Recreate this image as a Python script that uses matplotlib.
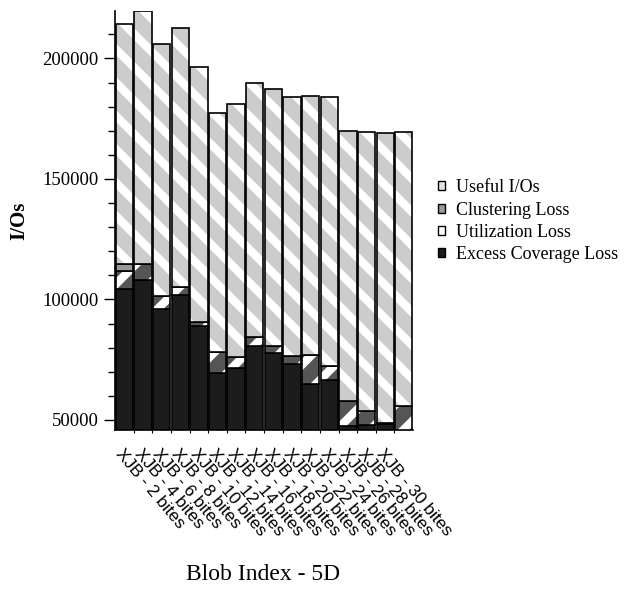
import matplotlib
matplotlib.use("Agg")
import numpy as np
import matplotlib.pyplot as plt
from matplotlib.patches import Patch

plt.rcParams["font.family"] = ["Liberation Serif", "DejaVu Serif"]
plt.rcParams["hatch.linewidth"] = 6.0

# one bar per index variant; the last bar has no tick label
tick_labels = ["XJB - %d bites" % b for b in range(2, 32, 2)]
n_bars = 16

excess = [104200, 107900, 96200, 101700, 88900, 69400, 71500, 80700,
          77700, 73300, 65000, 66600, 47300, 48000, 48300, 45000]
utilization = [7600, 6900, 5400, 3500, 1900, 8700, 4500, 3600,
               3000, 3300, 12000, 5800, 10700, 5500, 600, 10600]
clustering = [2800, 0, 0, 0, 0, 0, 0, 0, 0, 0, 0, 0, 0, 0, 0, 0]
useful = [99500, 104800, 104300, 107360, 105600, 99100, 105000, 105700,
          106600, 107300, 107400, 111400, 111900, 115800, 120000, 114000]

series_names = ["Excess Coverage Loss", "Utilization Loss", "Clustering Loss", "Useful I/Os"]

fig = plt.figure(figsize=(6.25, 5.97), dpi=100)
ax = fig.add_axes([0.184, 0.2797, 0.477, 0.7019])

x = np.arange(n_bars)
w = 0.93


def stacked(vals, bottom, face, hatch=None):
    # fill + white hatch first, then the black outline on top
    ax.bar(x, vals, w, bottom=bottom, color=face, edgecolor="white",
           hatch=hatch, linewidth=0)
    ax.bar(x, vals, w, bottom=bottom, fill=False, edgecolor="black", linewidth=1.2)


base = np.zeros(n_bars)
stacked(excess, base, "#1c1c1c")
base = base + np.array(excess)
stacked(utilization, base, "#555555", "/")
base = base + np.array(utilization)
stacked(clustering, base, "#9a9a9a")
base = base + np.array(clustering)
stacked(useful, base, "#cccccc", "\\")

ax.set_xlim(-0.5, n_bars - 0.5)
ax.set_ylim(45800, 219700)

ax.spines["top"].set_visible(False)
ax.spines["right"].set_visible(False)
for s in ("left", "bottom"):
    ax.spines[s].set_linewidth(1.2)

ax.set_yticks([50000, 100000, 150000, 200000])
ax.set_yticks(np.arange(50000, 220000, 10000), minor=True)
ax.tick_params(axis="y", which="major", length=8, width=1, labelsize=13.5, pad=4)
ax.tick_params(axis="y", which="minor", length=5, width=1)

ax.set_xticks(x[:len(tick_labels)])
ax.set_xticklabels(tick_labels, rotation=-50, ha="left", va="top",
                   rotation_mode="anchor", family="Liberation Sans", fontsize=12.5)
ax.set_xticks(np.arange(0.5, n_bars - 0.5, 1), minor=True)
ax.tick_params(axis="x", which="major", length=0, pad=12)
ax.tick_params(axis="x", which="minor", length=2, width=0.8)

ax.set_ylabel("I/Os", fontsize=15, fontweight="bold", labelpad=9)
fig.text(0.421, 0.028, "Blob Index - 5D", ha="center", fontsize=17)

handles = [
    Patch(facecolor="#e4e4e4", edgecolor="black", linewidth=1),
    Patch(facecolor="#9a9a9a", edgecolor="black", linewidth=1),
    Patch(facecolor="white", edgecolor="black", linewidth=1),
    Patch(facecolor="#1c1c1c", edgecolor="black", linewidth=1),
]
fig.legend(handles, series_names[::-1], loc="upper left",
           bbox_to_anchor=(0.70, 0.700), frameon=False, fontsize=13,
           handlelength=0.4, handleheight=0.4, handletextpad=0.6,
           labelspacing=0.3, borderpad=0, borderaxespad=0)

fig.savefig("out.png", dpi=100)
